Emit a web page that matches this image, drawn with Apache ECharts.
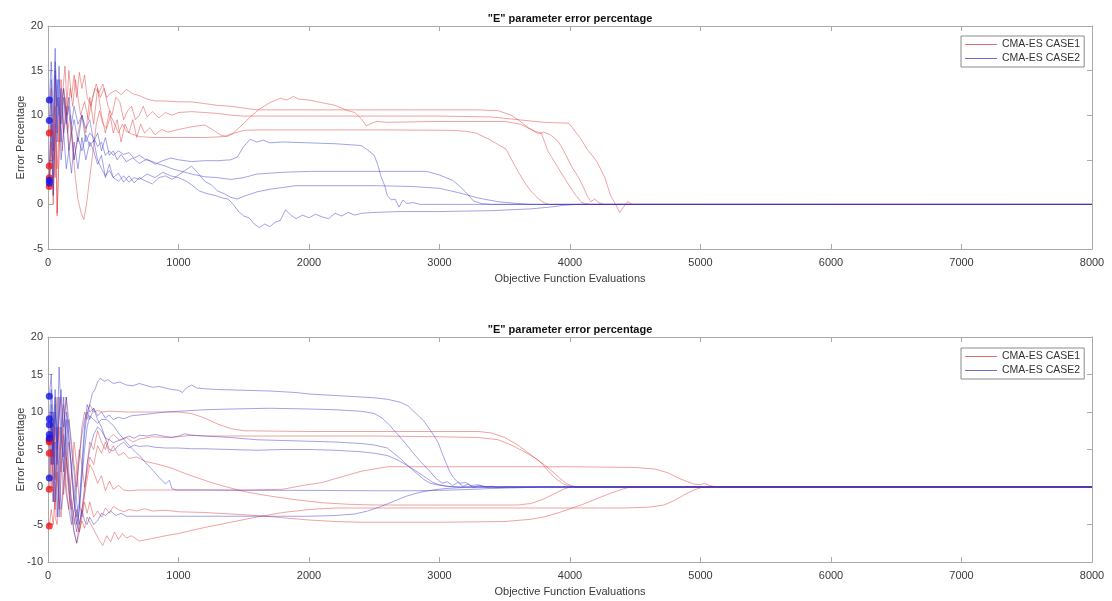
<!DOCTYPE html>
<html>
<head>
<meta charset="utf-8">
<script src="https://cdn.jsdelivr.net/npm/echarts@6/dist/echarts.min.js"></script>
<style>
  html, body { margin: 0; padding: 0; background: #fff; }
  #chart { width: 1112px; height: 601px; }
</style>
</head>
<body>
<div id="chart"></div>
<script>
// Panel titles, axis names and legend names
const panelTitle = '"E" parameter error percentage';
const xName = 'Objective Function Evaluations';
const yName = 'Error Percentage';
const caseNames = ['CMA-ES CASE1', 'CMA-ES CASE2'];

// Axis ranges
const xRange = [0, 8000, 1000];
const upperYRange = [-5, 20, 5];
const lowerYRange = [-10, 20, 5];

// ---- Upper panel, CASE1 runs: [evaluations, error %] ----
const upC1a = [[10,8],[25,13],[40,5],[55,14.5],[70,-1],[85,6],[100,11],[120,13],[140,10],[160,15],[180,12],[200,14.5],[220,12],[240,14.8],[260,13],[280,14.5],[300,12],[330,11],[360,13],[390,12.5],[420,13.5],[450,12],[480,12.5],[520,12.8],[560,12.3],[600,12.9],[650,12.4],[700,12.2],[760,11.8],[820,11.6],[900,11.6],[1000,11.5],[1100,11.5],[1200,11.3],[1300,11.1],[1400,11.0],[1500,10.8],[1600,10.6],[1800,10.6],[2200,10.6],[2800,10.6],[3300,10.6],[3450,10.5],[3550,10.0],[3620,9.3],[3680,8.6],[3730,8.2],[3780,8.0],[3830,6.0],[3880,4.8],[3930,3.6],[3990,2.2],[4045,1.0],[4090,0.2],[4150,0],[8000,0]];
const upC1b = [[10,4.3],[25,9],[40,0],[55,11],[70,-1.3],[90,8],[110,12],[130,15.5],[150,10],[170,13],[190,11],[210,14],[230,12],[250,10],[280,11.5],[310,9.5],[340,12],[370,13.5],[400,12],[430,13],[460,11],[490,10],[520,12],[550,11.5],[580,9.5],[610,10.5],[640,11],[670,9.5],[700,10],[730,11],[760,9.8],[800,10.4],[850,9.7],[900,10.3],[950,10],[1000,10.3],[1100,10.4],[1200,10.3],[1300,10.2],[1400,10.0],[1500,9.9],[1700,9.9],[2200,9.9],[3000,9.9],[3400,9.8],[3600,9.5],[3800,9.2],[3990,9.1],[4045,8.1],[4090,7.2],[4130,6.2],[4170,5.5],[4210,4.7],[4270,2.9],[4310,1],[4350,0],[4380,-0.9],[4410,-0.3],[4440,0.3],[4480,0],[8000,0]];
const upC1c = [[10,3],[25,7],[40,1],[55,9],[70,4],[90,10],[110,6],[130,12],[150,8],[170,10],[190,6],[210,3],[230,0.5],[255,-1],[275,-1.7],[295,0],[320,3],[345,6],[370,9],[395,10.5],[420,9],[450,8.5],[480,10],[510,9],[540,8],[570,9],[600,8.2],[640,7.9],[700,7.6],[800,7.5],[1000,7.5],[1200,7.5],[1350,7.6],[1420,8],[1480,8.8],[1550,9.8],[1620,10.7],[1700,11.4],[1780,11.9],[1830,11.7],[1880,12.1],[1920,11.8],[2000,11.7],[2100,11.4],[2200,11.1],[2300,10.5],[2350,10.3],[2400,9.6],[2440,8.8],[2480,9.1],[2520,9.3],[2600,9.2],[3000,9.3],[3500,9.3],[3620,9.0],[3700,8.4],[3760,7.9],[3800,8.1],[3850,7.8],[3900,7.2],[3930,6.6],[3970,5.5],[4010,4.3],[4070,2.9],[4110,1.7],[4130,1],[4160,0.3],[4190,0.6],[4220,0.2],[4260,0],[8000,0]];
const upC1d = [[10,2],[25,5],[40,10],[55,3],[70,12],[85,7],[100,14],[120,8],[140,11],[160,6],[180,9],[200,5],[230,8],[260,10],[290,8],[320,12],[350,9],[380,13],[410,10],[440,8],[470,10.5],[500,8],[530,9.5],[560,7],[590,9],[620,8],[650,9.5],[680,7.5],[710,9],[740,8],[780,8.6],[820,7.8],[870,8.4],[920,8.1],[1000,8.4],[1100,8.7],[1200,8.9],[1260,8.4],[1320,7.8],[1370,7.6],[1430,8],[1500,8.3],[1600,8.35],[2000,8.35],[2600,8.35],[3100,8.3],[3200,8.2],[3280,8.0],[3380,7.3],[3450,6.7],[3510,6.2],[3560,4.8],[3610,3.5],[3650,2.5],[3700,1.5],[3760,0.6],[3800,0.2],[3840,0],[8000,0]];

// ---- Upper panel, CASE2 runs ----
const upC2a = [[10,11.7],[25,16],[40,10],[55,17.5],[70,8],[85,14],[100,7],[120,12],[140,9],[160,11],[180,8],[200,9.5],[230,7],[260,10],[290,8.5],[320,9.5],[350,7],[380,8],[410,6],[440,7.5],[470,5.5],[500,6],[530,5],[560,5.6],[600,4.8],[650,5.2],[700,4.6],[760,5.1],[820,4.5],[880,4.9],[940,5.2],[1000,5.0],[1100,4.8],[1200,4.9],[1300,4.9],[1400,5.0],[1450,5.3],[1500,6.5],[1550,7.3],[1600,7.0],[1650,7.2],[1700,6.9],[1800,7.0],[2000,6.9],[2200,6.8],[2400,6.6],[2450,6.1],[2500,5.5],[2530,4.3],[2550,3.2],[2580,2.1],[2600,1.0],[2630,0.5],[2660,0.6],[2690,-0.3],[2720,0.5],[2750,0.1],[2800,0.2],[2850,0],[8000,0]];
const upC2b = [[10,9.4],[25,14],[40,6],[55,16],[70,11],[85,15.5],[100,9],[120,13],[140,10],[160,12],[180,9],[200,11],[230,9],[260,10],[290,7],[320,8],[350,7.5],[380,6.5],[410,7],[440,5.5],[470,6],[500,5.5],[540,6],[580,5.6],[620,5.8],[660,5.2],[700,5.5],[750,5],[800,4.8],[850,4.5],[900,4.3],[950,4.0],[1000,3.8],[1100,3.4],[1200,3.1],[1300,3.0],[1400,2.8],[1500,3.0],[1600,3.4],[1700,3.5],[1800,3.6],[2000,3.7],[2500,3.7],[2900,3.7],[3000,3.3],[3100,2.7],[3150,2.1],[3200,1.4],[3260,0.4],[3320,0.1],[3400,0],[8000,0]];
const upC2c = [[10,2.7],[25,9],[40,3],[55,15],[70,7],[85,12],[100,5],[120,8],[140,4],[160,6],[180,3.5],[200,7],[230,4],[260,7.5],[290,5],[320,7],[350,6],[380,4.5],[410,5.5],[440,3],[470,4.5],[500,3],[540,3.5],[580,2.5],[620,3.2],[660,2.4],[700,3],[750,2.6],[800,2.3],[850,3],[900,3.2],[950,2.8],[1000,3.3],[1050,3.8],[1100,4.3],[1150,3.5],[1200,2.6],[1250,2.2],[1300,1.5],[1350,1.2],[1400,0.8],[1450,0.6],[1500,0.9],[1600,1.4],[1700,1.7],[1800,1.9],[1900,2.1],[2500,2.1],[2800,2.0],[3000,1.8],[3150,1.3],[3300,0.7],[3450,0.3],[3600,0.1],[3700,0],[8000,0]];
const upC2d = [[10,2.4],[25,12],[40,1],[55,8],[70,14],[85,10],[100,13],[120,8],[140,10],[160,6],[180,8],[200,5],[230,7.5],[260,6],[290,7.8],[320,6.5],[350,7.2],[380,5],[410,4],[440,3.2],[470,3.8],[500,3],[540,2.6],[580,3.2],[620,2.5],[660,3],[700,2.8],[760,3.4],[820,3],[880,3.6],[940,3.2],[1000,3.0],[1060,2.6],[1100,2.2],[1160,1.5],[1220,1.2],[1280,1.0],[1340,0.7],[1380,0.6],[1420,0],[1460,-0.8],[1500,-1.3],[1540,-1.5],[1580,-2.2],[1620,-2.6],[1660,-2.2],[1700,-2.5],[1740,-2.0],[1780,-1.8],[1820,-0.6],[1860,-1.2],[1900,-1.6],[1950,-1.2],[2000,-1.5],[2050,-1.1],[2100,-1.4],[2150,-1.6],[2200,-1.0],[2250,-1.3],[2300,-0.9],[2350,-1.2],[2400,-1.0],[2500,-0.9],[2700,-0.8],[3000,-0.8],[3400,-0.7],[3700,-0.5],[3850,-0.3],[3950,-0.1],[4050,0],[8000,0]];

// ---- Lower panel, CASE1 runs ----
const loC1a = [[10,6.3],[25,10],[40,3],[55,9],[70,12],[85,6],[100,2],[120,8],[140,12],[160,9],[180,6],[200,3],[220,0],[240,4],[260,8],[280,10],[300,9],[320,11],[350,10],[380,10.2],[420,10],[460,10.1],[500,10.1],[600,10],[700,10],[800,10],[900,10],[1000,10],[1100,9.8],[1200,9.2],[1300,8.4],[1400,7.8],[1500,7.5],[2000,7.4],[2500,7.4],[3000,7.4],[3300,7.4],[3400,7.2],[3500,6.6],[3600,5.6],[3700,4.3],[3780,3.2],[3850,1.8],[3900,1.0],[3950,0.4],[4000,0.1],[4050,0],[8000,0]];
const loC1b = [[10,6.0],[25,3],[40,9],[55,1],[70,5],[85,10],[100,12],[120,6],[140,0],[160,-3],[180,2],[200,6],[220,3],[240,-2],[260,-4],[280,-1],[300,3],[320,6],[350,5],[380,7.5],[410,6],[440,5],[470,6.5],[500,7],[550,6.2],[600,6.6],[650,6.0],[700,6.4],[800,6.7],[900,6.6],[1000,6.7],[1100,6.9],[1200,6.8],[1500,6.8],[2000,6.8],[2500,6.8],[3000,6.7],[3300,6.6],[3450,6.3],[3550,5.6],[3650,4.7],[3730,3.9],[3800,3.0],[3870,2.0],[3920,1.2],[3970,0.5],[4010,0.2],[4050,0],[8000,0]];
const loC1c = [[10,4.5],[25,0],[40,7],[55,-3],[70,3],[85,8],[100,4],[120,-1],[140,3],[160,6],[180,2],[200,-2],[220,-5],[240,-6],[260,-3],[280,-1],[300,1],[320,3],[350,2],[380,0.5],[410,1.5],[440,-0.5],[470,0.8],[500,-0.3],[540,0.2],[580,-0.4],[620,-0.5],[700,-0.4],[900,-0.4],[1200,-0.4],[1500,-0.4],[1800,-0.3],[1950,0.2],[2100,0.6],[2200,1.1],[2300,1.6],[2400,2.1],[2500,2.4],[2600,2.7],[3000,2.7],[3500,2.7],[4000,2.7],[4500,2.6],[4650,2.4],[4750,1.9],[4830,1.2],[4900,0.7],[4950,0.4],[5000,0.3],[5030,0.5],[5070,0.2],[5120,0],[8000,0]];
const loC1d = [[10,-0.3],[25,5],[40,-2],[55,8],[70,2],[85,-3],[100,1],[120,7],[140,3],[160,-1],[180,-3],[200,-1],[220,2],[240,5],[260,3],[280,0],[300,2],[320,4],[350,3],[380,5.5],[410,4.5],[440,6],[470,4.5],[500,5.5],[540,4.2],[580,4.6],[620,3.8],[680,4],[750,3.4],[850,3],[950,2.5],[1050,1.8],[1150,1.2],[1250,0.6],[1350,0.1],[1500,-0.6],[1700,-1.2],[1900,-1.7],[2100,-2.1],[2300,-2.3],[2500,-2.4],[3000,-2.4],[3600,-2.4],[3700,-2.2],[3800,-1.6],[3880,-0.9],[3950,-0.3],[4000,0],[8000,0]];
const loC1e = [[10,-5.2],[25,-3],[40,-5],[55,-1],[70,2],[85,-2],[100,-4],[120,0],[140,4],[160,1],[180,-2],[200,-5],[220,-3],[240,-6],[260,-4],[280,-2],[300,-3.5],[320,-2],[350,-4],[380,-3.2],[410,-4],[440,-2.8],[470,-3.5],[500,-2.6],[540,-3],[580,-3.3],[620,-3],[680,-3.2],[740,-2.9],[800,-3.2],[900,-3.1],[1000,-3.3],[1200,-3.4],[1400,-3.6],[1600,-3.8],[1800,-4.1],[2000,-4.4],[2200,-4.6],[2400,-4.7],[3000,-4.7],[3500,-4.6],[3700,-4.3],[3800,-4.0],[3900,-3.5],[4000,-2.9],[4100,-2.3],[4200,-1.6],[4300,-0.9],[4400,-0.3],[4460,0],[8000,0]];
const loC1f = [[10,6.2],[25,9],[40,2],[55,-4],[70,-5],[85,1],[100,8],[120,11],[140,5],[160,0],[180,-3],[200,-6],[220,-7.5],[240,-6],[260,-4.5],[280,-5.5],[300,-4],[330,-5],[360,-6],[390,-7],[420,-7.8],[450,-6.5],[480,-7.3],[510,-6],[540,-7],[570,-6.2],[600,-6.8],[640,-6.5],[700,-7.2],[760,-7.0],[820,-6.8],[900,-6.5],[1000,-6.2],[1100,-5.8],[1200,-5.4],[1400,-4.7],[1600,-4.0],[1800,-3.4],[2000,-3.0],[2200,-2.8],[2400,-2.8],[3000,-2.8],[3500,-2.8],[4000,-2.8],[4400,-2.8],[4600,-2.7],[4720,-2.4],[4800,-1.8],[4880,-1.0],[4950,-0.4],[5000,-0.1],[5060,0],[8000,0]];

// ---- Lower panel, CASE2 runs ----
const loC2a = [[10,12.1],[25,15],[40,8],[55,13],[70,6],[85,16],[100,10],[120,4],[140,9],[160,2],[180,-2],[200,-4],[220,-6],[240,-3],[260,2],[280,7],[300,10],[320,11],[340,12.5],[360,13],[380,14],[400,14.5],[430,14.1],[460,14.3],[500,13.8],[550,14],[600,13.6],[650,13.5],[700,13.8],[760,13.5],[800,13.3],[850,13.4],[900,13.2],[950,13.0],[1000,12.9],[1030,12.6],[1060,13.2],[1100,13.6],[1140,13.2],[1200,13.1],[1300,13.0],[1500,12.9],[1700,12.8],[1900,12.6],[2000,12.4],[2200,12.2],[2400,12.0],[2500,11.9],[2600,11.7],[2700,11.3],[2760,10.8],[2820,9.8],[2880,8.8],[2920,7.8],[2960,6.8],[2990,5.9],[3020,4.5],[3050,3.2],[3080,2.0],[3100,1.4],[3130,0.8],[3160,0.5],[3200,0.6],[3240,0.2],[3300,0.3],[3360,0],[8000,0]];
const loC2b = [[10,9.1],[25,13],[40,5],[55,11],[70,3],[85,9],[100,13],[120,8],[140,12],[160,6],[180,3],[200,-1],[220,-4],[240,-2],[260,3],[280,8],[300,11],[320,10],[350,10.5],[380,9.5],[410,10],[440,9.2],[470,9.6],[500,9.0],[540,9.3],[580,9.1],[640,9.5],[700,9.6],[800,9.8],[900,10],[1000,10.1],[1200,10.3],[1400,10.4],[1700,10.5],[2000,10.4],[2200,10.3],[2400,10.1],[2500,9.8],[2560,9.2],[2620,8.2],[2680,7.0],[2740,5.8],[2800,4.5],[2860,3.3],[2920,2.2],[2970,1.2],[3020,0.5],[3060,0.7],[3100,0.2],[3140,0.6],[3180,0.1],[3220,0.4],[3260,-0.1],[3300,0.2],[3350,0],[3400,0.1],[3450,-0.1],[3500,0],[8000,0]];
const loC2c = [[10,8.3],[25,11],[40,4],[55,12],[70,7],[85,2],[100,-3],[120,1],[140,6],[160,9],[180,5],[200,2],[220,-2],[240,-5],[260,-3],[280,0],[300,3],[320,5],[350,7],[380,8],[410,7.5],[440,6.5],[470,6.3],[500,5.9],[540,6.2],[580,6.5],[620,6.8],[660,6.5],[700,6.9],[760,6.8],[820,7.0],[880,6.8],[950,6.6],[1000,6.8],[1050,7.1],[1100,6.9],[1200,6.8],[1400,6.6],[1600,6.3],[1800,6.2],[2000,6.1],[2200,6.0],[2400,5.8],[2500,5.6],[2600,5.2],[2650,4.5],[2700,3.8],[2760,2.8],[2820,1.9],[2880,1.0],[2930,0.5],[2980,0.3],[3050,0.1],[3150,0],[8000,0]];
const loC2d = [[10,7],[25,9],[40,3],[55,10],[70,5],[85,12],[100,7],[120,3],[140,-1],[160,-3],[180,-5],[200,-3],[220,0],[240,4],[260,7],[280,9],[300,10],[320,9],[350,10.5],[380,9],[410,8],[440,6.5],[470,5],[500,4.8],[540,5.5],[580,6],[620,5.2],[660,5.6],[700,5.4],[760,5.5],[820,5.3],[900,5.2],[1000,5.2],[1100,5.1],[1200,5.1],[1400,5.0],[1600,4.9],[1800,5.0],[2000,5.0],[2200,4.9],[2400,4.7],[2500,4.5],[2600,4.2],[2680,3.6],[2760,2.8],[2840,1.9],[2900,1.2],[2950,0.6],[3000,0.3],[3060,0.1],[3120,0],[8000,0]];
const loC2e = [[10,1.2],[25,10],[40,-2],[55,6],[70,-4],[85,3],[100,8],[120,2],[140,10],[160,7],[180,2],[200,-2],[220,-5],[240,-3],[260,1],[280,5],[300,8],[320,9.5],[350,9],[380,8.5],[410,9],[450,9],[500,8.2],[550,7],[600,6],[650,5],[700,4.2],[750,3.2],[800,2.3],[850,1.3],[900,0.4],[930,0.9],[950,-0.2],[980,-0.4],[1200,-0.4],[1500,-0.45],[2000,-0.45],[2500,-0.5],[2800,-0.5],[3000,-0.45],[3200,-0.35],[3400,-0.2],[3600,-0.1],[3800,0],[8000,0]];
const loC2f = [[10,6.5],[25,3],[40,10],[55,-2],[70,8],[85,-4],[100,5],[120,12],[140,4],[160,0],[180,-4],[200,-6],[220,-7.5],[240,-5],[260,-3],[280,-4.5],[300,-5],[320,-4],[350,-5],[380,-4.5],[410,-3.5],[440,-3.8],[480,-3.2],[520,-3.8],[560,-3.5],[600,-3.9],[700,-3.9],[800,-3.9],[1000,-3.9],[1300,-3.9],[1600,-3.9],[2000,-3.9],[2200,-3.8],[2350,-3.6],[2450,-3.2],[2550,-2.6],[2650,-1.9],[2750,-1.2],[2850,-0.7],[2950,-0.4],[3050,-0.2],[3150,-0.1],[3250,0],[8000,0]];

// Grouping per panel and case
const panels = [
  { case1: [upC1a, upC1b, upC1c, upC1d], case2: [upC2a, upC2b, upC2c, upC2d], yRange: upperYRange },
  { case1: [loC1a, loC1b, loC1c, loC1d, loC1e, loC1f], case2: [loC2a, loC2b, loC2c, loC2d, loC2e, loC2f], yRange: lowerYRange }
];

// Styling
const FONT = 'Liberation Sans, Arial, Helvetica, sans-serif';
const lineColors = ['rgba(222, 50, 50, 0.5)', 'rgba(50, 50, 200, 0.5)'];
const legendColors = ['#e07070', '#7070d0'];
const dotColors = ['#f01515', '#1515e6'];
const frameColor = '#a9a9a9';
const textColor = '#3a3a3a';

const grids = [
  { left: 48, right: 20, top: 26, height: 223, outerBoundsMode: 'none', containLabel: false },
  { left: 48, right: 20, top: 337, height: 225, outerBoundsMode: 'none', containLabel: false }
];
// legend box positions (top edge) for each panel
const legendTop = [36, 348];

// each panel keeps its own series names so each legend box is tied to its own panel
const panelPrefix = ['upper|', 'lower|'];

const xAxes = [];
const yAxes = [];
const series = [];
const graphics = [];
const legends = [];

panels.forEach((p, gi) => {
  const tick = { show: true, inside: true, length: 5, lineStyle: { color: frameColor, width: 1 } };
  const line = { show: true, onZero: false, lineStyle: { color: frameColor, width: 1 } };
  const plain = (v) => String(v);
  // bottom x axis with labels
  xAxes.push({
    type: 'value', gridIndex: gi, position: 'bottom', min: xRange[0], max: xRange[1], interval: xRange[2],
    axisLine: line, axisTick: tick, splitLine: { show: false },
    axisLabel: { color: textColor, fontFamily: FONT, fontSize: 11, margin: 8, formatter: plain },
    name: xName, nameLocation: 'middle', nameGap: 24, nameMoveOverlap: false,
    nameTextStyle: { color: textColor, fontFamily: FONT, fontSize: 11 }
  });
  // top frame edge
  xAxes.push({
    type: 'value', gridIndex: gi, position: 'top', min: xRange[0], max: xRange[1], interval: xRange[2],
    axisLine: line, axisTick: tick, splitLine: { show: false }, axisLabel: { show: false }
  });
  yAxes.push({
    type: 'value', gridIndex: gi, position: 'left', min: p.yRange[0], max: p.yRange[1], interval: p.yRange[2],
    axisLine: line, axisTick: tick, splitLine: { show: false },
    axisLabel: { color: textColor, fontFamily: FONT, fontSize: 11, margin: 5, formatter: plain },
    name: yName, nameLocation: 'middle', nameGap: 22, nameRotate: 90, nameMoveOverlap: false,
    nameTextStyle: { color: textColor, fontFamily: FONT, fontSize: 11 }
  });
  yAxes.push({
    type: 'value', gridIndex: gi, position: 'right', min: p.yRange[0], max: p.yRange[1], interval: p.yRange[2],
    axisLine: line, axisTick: tick, splitLine: { show: false }, axisLabel: { show: false }
  });

  const xi = gi * 2, yi = gi * 2;
  const names = caseNames.map(n => panelPrefix[gi] + n);
  [p.case1, p.case2].forEach((runs, ci) => {
    runs.forEach((run) => {
      series.push({
        type: 'line', name: names[ci], xAxisIndex: xi, yAxisIndex: yi,
        data: run, symbol: 'none', silent: true, animation: false,
        lineStyle: { color: lineColors[ci], width: 0.9 }, itemStyle: { color: legendColors[ci] },
        z: 2
      });
    });
  });
  // starting points of every run
  [p.case1, p.case2].forEach((runs, ci) => {
    series.push({
      type: 'scatter', name: 'start' + gi + '_' + ci, xAxisIndex: xi, yAxisIndex: yi,
      data: runs.map(r => r[0]), symbol: 'circle', symbolSize: 7, silent: true, animation: false,
      itemStyle: { color: dotColors[ci] }, z: 5
    });
  });

  const g = grids[gi];
  graphics.push({
    type: 'text', x: 48 + (1112 - 48 - 20) / 2, y: g.top - 13,
    style: { text: panelTitle, font: 'bold 11px ' + FONT, fill: '#111', textAlign: 'center', textVerticalAlign: 'top' }
  });
  legends.push({
    data: names.map((n, ci) => ({
      name: n, icon: 'rect',
      itemStyle: { color: legendColors[ci], borderWidth: 0 }
    })),
    formatter: (n) => n.split('|')[1],
    orient: 'vertical', left: 961, top: legendTop[gi],
    padding: [2, 4, 2, 4], itemGap: 1, itemWidth: 32, itemHeight: 1,
    backgroundColor: '#fff', borderColor: '#8a8a8a', borderWidth: 1, borderRadius: 0,
    textStyle: { color: '#333', fontFamily: FONT, fontSize: 10.5, lineHeight: 13 },
    selectedMode: false
  });
});

const chart = echarts.init(document.getElementById('chart'), null, { renderer: 'canvas' });
chart.setOption({
  backgroundColor: '#fff',
  animation: false,
  grid: grids,
  xAxis: xAxes,
  yAxis: yAxes,
  legend: legends,
  graphic: graphics,
  series: series
});
</script>
</body>
</html>
